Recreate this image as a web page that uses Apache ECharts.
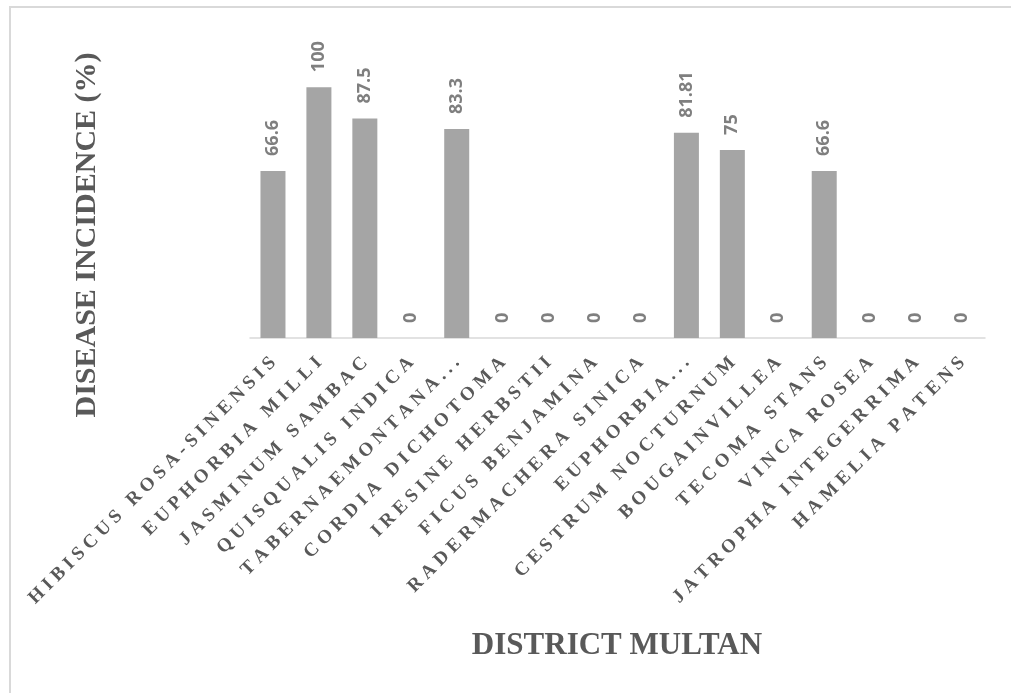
<!DOCTYPE html>
<html>
<head>
<meta charset="utf-8">
<script src="https://cdn.jsdelivr.net/npm/echarts@6/dist/echarts.min.js"></script>
<style>
  html, body { margin: 0; padding: 0; background: #ffffff; }
  #chart { width: 1011px; height: 693px; }
</style>
</head>
<body>
<div id="chart"></div>
<script>
// Plant species surveyed in District Multan
const categories = [
  'HIBISCUS ROSA-SINENSIS',
  'EUPHORBIA MILLI',
  'JASMINUM SAMBAC',
  'QUISQUALIS INDICA',
  'TABERNAEMONTANA...',
  'CORDIA DICHOTOMA',
  'IRESINE HERBSTII',
  'FICUS BENJAMINA',
  'RADERMACHERA SINICA',
  'EUPHORBIA...',
  'CESTRUM NOCTURNUM',
  'BOUGAINVILLEA',
  'TECOMA STANS',
  'VINCA ROSEA',
  'JATROPHA INTEGERRIMA',
  'HAMELIA PATENS'
];

// Disease incidence (%) for each species
const incidence = [66.6, 100, 87.5, 0, 83.3, 0, 0, 0, 0, 81.81, 75, 0, 66.6, 0, 0, 0];

const yTitle = 'DISEASE INCIDENCE (%)';
const xTitle = 'DISTRICT MULTAN';

// widen the tracking of the category labels
const spaced = s => s.split('').join('\u2005');

const chart = echarts.init(document.getElementById('chart'), null, { renderer: 'canvas' });

chart.setOption({
  animation: false,
  backgroundColor: '#ffffff',
  grid: { left: 250, right: 26, top: 37, bottom: 355, containLabel: false },
  xAxis: {
    type: 'category',
    data: categories,
    axisLine: { show: true, lineStyle: { color: '#d9d9d9', width: 1.5 } },
    axisTick: { show: false },
    axisLabel: {
      interval: 0,
      rotate: 45,
      margin: 22,
      color: '#595959',
      fontFamily: '"Liberation Serif", "Times New Roman", serif',
      fontWeight: 'bold',
      fontSize: 19,
      formatter: spaced
    }
  },
  yAxis: {
    type: 'value',
    min: 0,
    max: 120,
    interval: 20,
    axisLine: { show: false },
    axisTick: { show: false },
    axisLabel: { show: false },
    splitLine: { show: false }
  },
  series: [{
    type: 'bar',
    data: incidence,
    barWidth: 25,
    itemStyle: { color: '#a5a5a5' },
    label: {
      show: true,
      position: 'top',
      distance: 15,
      rotate: 90,
      align: 'left',
      verticalAlign: 'middle',
      color: '#7f7f7f',
      fontFamily: '"Open Sans", "Liberation Sans", sans-serif',
      fontWeight: 'bold',
      fontSize: 18
    }
  }],
  graphic: [
    {
      type: 'rect',
      shape: { x: 10, y: 7, width: 1020, height: 720 },
      style: { fill: 'none', stroke: '#d9d9d9', lineWidth: 2 },
      silent: true
    },
    {
      type: 'text',
      x: 87,
      y: 235,
      rotation: Math.PI / 2,
      style: {
        text: yTitle,
        fill: '#595959',
        font: 'bold 30px "Liberation Serif", "Times New Roman", serif',
        align: 'center',
        verticalAlign: 'middle'
      }
    },
    {
      type: 'text',
      x: 617,
      y: 646,
      style: {
        text: xTitle,
        fill: '#595959',
        font: 'bold 31px "Liberation Serif", "Times New Roman", serif',
        align: 'center',
        verticalAlign: 'middle'
      }
    }
  ]
});
</script>
</body>
</html>
